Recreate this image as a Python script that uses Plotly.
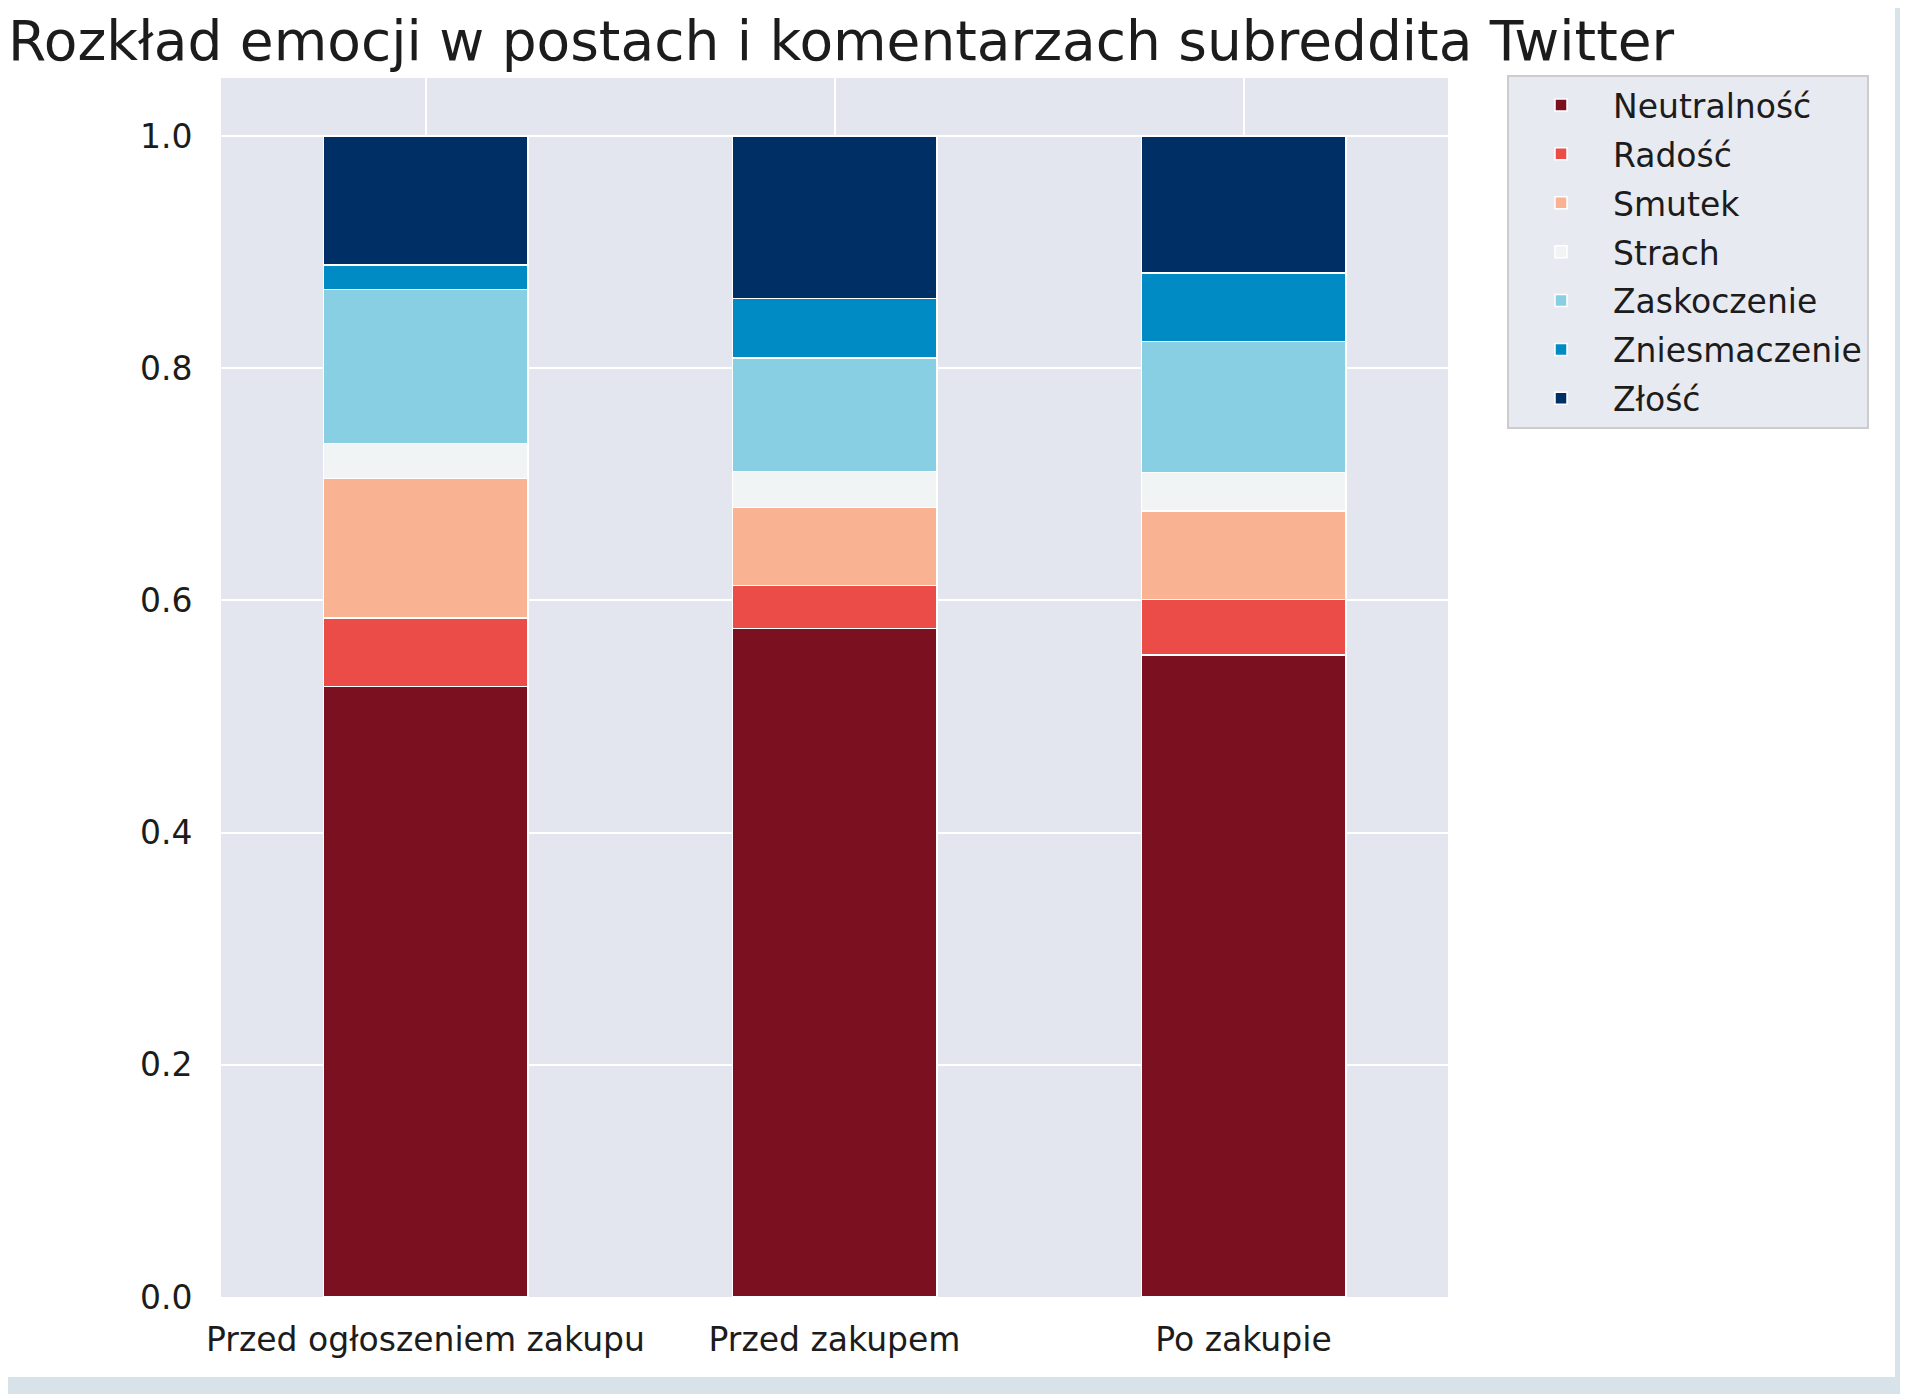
import plotly.graph_objects as go

categories = ["Przed ogłoszeniem zakupu", "Przed zakupem", "Po zakupie"]
emotions = ["Neutralność", "Radość", "Smutek", "Strach", "Zaskoczenie", "Zniesmaczenie", "Złość"]
neutralnosc = [0.526, 0.576, 0.553]
radosc = [0.059, 0.037, 0.048]
smutek = [0.120, 0.067, 0.076]
strach = [0.030, 0.031, 0.033]
zaskoczenie = [0.133, 0.098, 0.113]
zniesmaczenie = [0.021, 0.051, 0.059]
zlosc = [0.111, 0.140, 0.118]
y_ticks = [0.0, 0.2, 0.4, 0.6, 0.8, 1.0]

series = [neutralnosc, radosc, smutek, strach, zaskoczenie, zniesmaczenie, zlosc]
colors = ["#7b1120", "#eb4c47", "#f9b393", "#f0f4f5", "#89cfe4", "#008bc4", "#002f66"]

# page has an 8px body margin; work in page pixels and convert
OFF = 8
W, H = 1908 - OFF, 1394 - OFF
L, R, T, B = 221 - OFF, 1448 - OFF, 78 - OFF, 1297 - OFF
FONT = "DejaVu Sans"
TXT = "#1c1c1c"

fig = go.Figure()
for name, vals, col in zip(emotions, series, colors):
    fig.add_trace(go.Bar(
        x=categories, y=vals, name=name, legendgroup=name,
        marker=dict(color=col, line=dict(color="white", width=1.5)),
    ))

def px_x(p):
    return (p - OFF - L) / (R - L)

def px_y(p):
    return (B - (p - OFF)) / (B - T)

shapes = [
    dict(type="rect", xref="paper", yref="paper", x0=px_x(1895), x1=px_x(1940),
         y0=px_y(1440), y1=px_y(-40), fillcolor="#d7e3e8", line=dict(width=0), layer="above"),
    dict(type="rect", xref="paper", yref="paper", x0=px_x(-40), x1=px_x(1940),
         y0=px_y(1440), y1=px_y(1377), fillcolor="#d7e3e8", line=dict(width=0), layer="above"),
]

fig.update_layout(
    width=W, height=H,
    margin=dict(l=L, r=W - R, t=T, b=H - B, pad=0),
    paper_bgcolor="white", plot_bgcolor="#e3e6ef",
    barmode="stack", bargap=0.5,
    font=dict(family=FONT, size=33, color=TXT),
    title=dict(text="Rozkład emocji w postach i komentarzach subreddita Twitter",
               x=0.0, xref="container", xanchor="left",
               y=1 - (41 - OFF) / H, yref="container", yanchor="middle",
               font=dict(family=FONT, size=55, color=TXT)),
    xaxis=dict(showgrid=True, gridcolor="white", gridwidth=2, range=[-0.5, 2.5],
               ticks="outside", ticklen=13, tickcolor="rgba(0,0,0,0)",
               showline=False, zeroline=False, tickfont=dict(size=33)),
    yaxis=dict(range=[0, 1.05], tickvals=y_ticks, ticktext=[f"{v:.1f}" for v in y_ticks],
               showgrid=True, gridcolor="white", gridwidth=2, zeroline=False,
               ticks="outside", ticklen=21, tickcolor="rgba(0,0,0,0)",
               showline=False, tickfont=dict(size=33)),
    legend=dict(x=px_x(1507), y=px_y(75), xanchor="left", yanchor="top",
                bgcolor="#e8eaf1", bordercolor="#cccccc", borderwidth=2,
                font=dict(family=FONT, size=33, color=TXT),
                traceorder="grouped", tracegroupgap=3, itemwidth=94),
    shapes=shapes,
)

fig.write_html("out.html")
